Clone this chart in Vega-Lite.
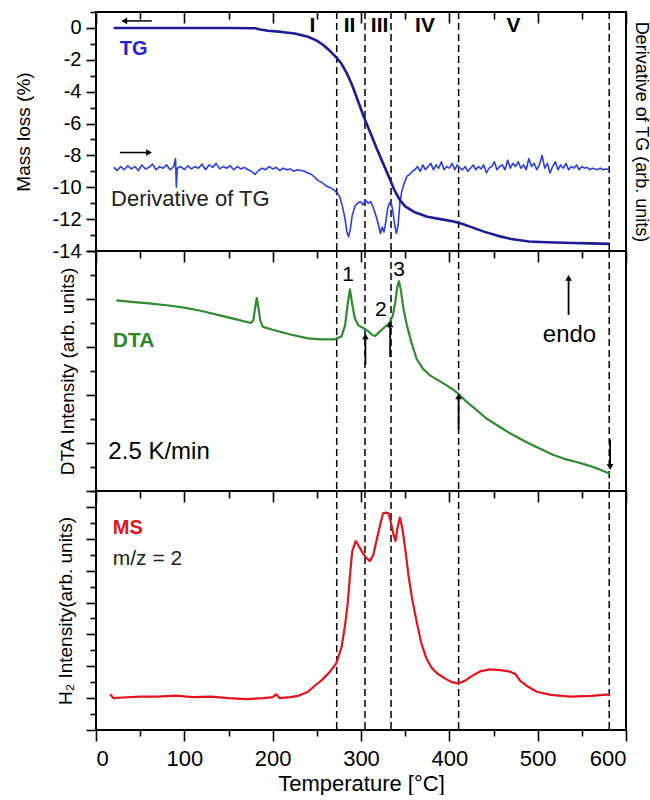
{
  "$schema": "https://vega.github.io/schema/vega-lite/v6.json",
  "padding": {"left": 13, "top": 10, "right": 0, "bottom": 0},
  "spacing": 0,
  "bounds": "flush",
  "config": {
    "font": "Liberation Sans",
    "view": {"stroke": "black", "strokeWidth": 2},
    "axis": {"domain": false, "grid": false, "labelFont": "Liberation Sans", "labelFontSize": 20, "labelColor": "black", "tickColor": "black", "tickWidth": 1.6, "titleFont": "Liberation Sans", "titleFontWeight": "normal", "titleFontSize": 19, "titleColor": "black"},
    "line": {"strokeJoin": "round"}
  },
  "datasets": {
    "vlines": [{"T": 272.5}, {"T": 304.5}, {"T": 334}, {"T": 410.5}, {"T": 581}],
    "tg": [
      {"T": 20, "v": 0}, {"T": 50, "v": 0}, {"T": 100, "v": 0}, {"T": 150, "v": 0}, {"T": 180, "v": -0.02},
      {"T": 186, "v": -0.1}, {"T": 195, "v": -0.18}, {"T": 210, "v": -0.25}, {"T": 225, "v": -0.35}, {"T": 240, "v": -0.55},
      {"T": 250, "v": -0.8}, {"T": 258, "v": -1.1}, {"T": 265, "v": -1.45}, {"T": 272, "v": -1.85}, {"T": 278, "v": -2.25},
      {"T": 284, "v": -2.85}, {"T": 290, "v": -3.6}, {"T": 297, "v": -4.65}, {"T": 304, "v": -5.7}, {"T": 310, "v": -6.5},
      {"T": 318, "v": -7.6}, {"T": 325, "v": -8.5}, {"T": 332, "v": -9.4}, {"T": 338, "v": -10.2}, {"T": 344, "v": -10.8},
      {"T": 350, "v": -11.2}, {"T": 360, "v": -11.55}, {"T": 375, "v": -11.85}, {"T": 390, "v": -12.0}, {"T": 405, "v": -12.15},
      {"T": 415, "v": -12.3}, {"T": 425, "v": -12.5}, {"T": 440, "v": -12.8}, {"T": 455, "v": -13.05}, {"T": 470, "v": -13.25},
      {"T": 490, "v": -13.4}, {"T": 510, "v": -13.45}, {"T": 540, "v": -13.5}, {"T": 560, "v": -13.52}, {"T": 582, "v": -13.55}
    ],
    "dtg": [
      {"T": 20, "v": -8.75}, {"T": 24, "v": -8.95}, {"T": 28, "v": -8.7}, {"T": 32, "v": -8.9}, {"T": 36, "v": -8.65},
      {"T": 40, "v": -8.85}, {"T": 44, "v": -8.7}, {"T": 48, "v": -8.95}, {"T": 52, "v": -8.6}, {"T": 56, "v": -8.85},
      {"T": 60, "v": -8.75}, {"T": 64, "v": -8.55}, {"T": 68, "v": -8.9}, {"T": 72, "v": -8.7}, {"T": 76, "v": -8.8},
      {"T": 80, "v": -8.6}, {"T": 84, "v": -8.9}, {"T": 88, "v": -8.7}, {"T": 90, "v": -8.2}, {"T": 91, "v": -10.0},
      {"T": 92, "v": -8.8}, {"T": 96, "v": -8.7}, {"T": 100, "v": -8.9}, {"T": 104, "v": -8.65}, {"T": 108, "v": -8.85},
      {"T": 112, "v": -8.7}, {"T": 116, "v": -8.8}, {"T": 120, "v": -8.55}, {"T": 124, "v": -8.9}, {"T": 128, "v": -8.6},
      {"T": 132, "v": -8.75}, {"T": 136, "v": -8.5}, {"T": 140, "v": -8.85}, {"T": 144, "v": -8.7}, {"T": 148, "v": -8.8},
      {"T": 152, "v": -8.65}, {"T": 156, "v": -8.9}, {"T": 160, "v": -8.7}, {"T": 164, "v": -8.85}, {"T": 168, "v": -8.75},
      {"T": 172, "v": -8.9}, {"T": 176, "v": -9.0}, {"T": 180, "v": -9.2}, {"T": 184, "v": -8.95}, {"T": 188, "v": -8.8},
      {"T": 192, "v": -8.9}, {"T": 196, "v": -8.7}, {"T": 200, "v": -8.85}, {"T": 204, "v": -8.75}, {"T": 208, "v": -8.95},
      {"T": 212, "v": -8.8}, {"T": 216, "v": -8.9}, {"T": 220, "v": -8.85}, {"T": 224, "v": -9.0}, {"T": 228, "v": -8.9},
      {"T": 232, "v": -8.95}, {"T": 236, "v": -9.0}, {"T": 240, "v": -9.1}, {"T": 244, "v": -9.2}, {"T": 248, "v": -9.4},
      {"T": 252, "v": -9.6}, {"T": 256, "v": -9.7}, {"T": 260, "v": -9.9}, {"T": 264, "v": -10.0}, {"T": 268, "v": -10.1},
      {"T": 272, "v": -10.3}, {"T": 276, "v": -10.6}, {"T": 279, "v": -11.2}, {"T": 282, "v": -12.0}, {"T": 284, "v": -12.8},
      {"T": 286, "v": -13.1}, {"T": 288, "v": -12.6}, {"T": 290, "v": -11.8}, {"T": 293, "v": -11.2}, {"T": 296, "v": -11.0},
      {"T": 299, "v": -10.9}, {"T": 302, "v": -11.1}, {"T": 305, "v": -10.8}, {"T": 308, "v": -11.0}, {"T": 311, "v": -10.9},
      {"T": 314, "v": -11.3}, {"T": 317, "v": -11.8}, {"T": 320, "v": -12.4}, {"T": 322, "v": -12.9}, {"T": 324, "v": -12.5},
      {"T": 326, "v": -12.8}, {"T": 328, "v": -12.2}, {"T": 330, "v": -11.4}, {"T": 332, "v": -11.0}, {"T": 334, "v": -10.9},
      {"T": 336, "v": -11.5}, {"T": 338, "v": -12.3}, {"T": 340, "v": -12.9}, {"T": 342, "v": -12.4}, {"T": 344, "v": -11.0},
      {"T": 346, "v": -10.3}, {"T": 348, "v": -9.9}, {"T": 350, "v": -9.6}, {"T": 352, "v": -9.3}, {"T": 355, "v": -9.2},
      {"T": 358, "v": -9.0}, {"T": 361, "v": -8.9}, {"T": 364, "v": -8.7}, {"T": 367, "v": -9.0}, {"T": 370, "v": -8.6},
      {"T": 373, "v": -8.9}, {"T": 376, "v": -8.7}, {"T": 379, "v": -8.5}, {"T": 382, "v": -8.9}, {"T": 385, "v": -8.6},
      {"T": 388, "v": -8.8}, {"T": 391, "v": -8.4}, {"T": 394, "v": -8.9}, {"T": 397, "v": -8.7}, {"T": 400, "v": -8.8},
      {"T": 403, "v": -8.5}, {"T": 406, "v": -8.9}, {"T": 409, "v": -8.6}, {"T": 412, "v": -8.8}, {"T": 415, "v": -8.9},
      {"T": 418, "v": -8.7}, {"T": 421, "v": -9.0}, {"T": 424, "v": -8.8}, {"T": 427, "v": -8.6}, {"T": 430, "v": -8.9},
      {"T": 433, "v": -8.7}, {"T": 436, "v": -8.85}, {"T": 439, "v": -8.6}, {"T": 442, "v": -9.1}, {"T": 445, "v": -8.8},
      {"T": 448, "v": -8.7}, {"T": 451, "v": -8.4}, {"T": 454, "v": -8.9}, {"T": 457, "v": -8.7}, {"T": 460, "v": -8.6},
      {"T": 463, "v": -8.9}, {"T": 466, "v": -8.3}, {"T": 469, "v": -8.8}, {"T": 472, "v": -8.5}, {"T": 475, "v": -8.7},
      {"T": 478, "v": -8.4}, {"T": 481, "v": -8.8}, {"T": 484, "v": -8.6}, {"T": 487, "v": -8.9}, {"T": 490, "v": -8.2},
      {"T": 493, "v": -8.7}, {"T": 496, "v": -8.5}, {"T": 499, "v": -8.9}, {"T": 502, "v": -8.6}, {"T": 505, "v": -8.0},
      {"T": 508, "v": -8.8}, {"T": 511, "v": -8.5}, {"T": 514, "v": -9.1}, {"T": 517, "v": -8.7}, {"T": 520, "v": -8.4},
      {"T": 523, "v": -8.9}, {"T": 526, "v": -8.6}, {"T": 529, "v": -8.8}, {"T": 532, "v": -8.5}, {"T": 535, "v": -8.9},
      {"T": 538, "v": -8.7}, {"T": 541, "v": -8.8}, {"T": 544, "v": -8.6}, {"T": 547, "v": -8.9}, {"T": 550, "v": -8.7},
      {"T": 553, "v": -8.8}, {"T": 556, "v": -8.75}, {"T": 559, "v": -8.9}, {"T": 562, "v": -8.8}, {"T": 565, "v": -8.85},
      {"T": 568, "v": -8.9}, {"T": 571, "v": -8.8}, {"T": 574, "v": -8.9}, {"T": 577, "v": -8.85}, {"T": 581, "v": -8.9}
    ],
    "dta": [
      {"T": 23, "v": 3.97}, {"T": 40, "v": 3.94}, {"T": 60, "v": 3.91}, {"T": 80, "v": 3.87}, {"T": 100, "v": 3.82},
      {"T": 120, "v": 3.75}, {"T": 140, "v": 3.66}, {"T": 160, "v": 3.57}, {"T": 175, "v": 3.5}, {"T": 178, "v": 3.55},
      {"T": 180, "v": 3.8}, {"T": 182, "v": 4.02}, {"T": 184, "v": 3.8}, {"T": 186, "v": 3.55}, {"T": 189, "v": 3.42},
      {"T": 200, "v": 3.36}, {"T": 220, "v": 3.26}, {"T": 240, "v": 3.18}, {"T": 255, "v": 3.16}, {"T": 270, "v": 3.16},
      {"T": 278, "v": 3.22}, {"T": 282, "v": 3.45}, {"T": 285, "v": 3.9}, {"T": 287.5, "v": 4.2}, {"T": 290, "v": 3.9},
      {"T": 293, "v": 3.6}, {"T": 297, "v": 3.45}, {"T": 302, "v": 3.4}, {"T": 308, "v": 3.33}, {"T": 313, "v": 3.25},
      {"T": 316, "v": 3.23}, {"T": 320, "v": 3.3}, {"T": 326, "v": 3.4}, {"T": 332, "v": 3.5}, {"T": 336, "v": 3.65},
      {"T": 339, "v": 3.95}, {"T": 341, "v": 4.25}, {"T": 343, "v": 4.37}, {"T": 345, "v": 4.2}, {"T": 348, "v": 3.8},
      {"T": 352, "v": 3.45}, {"T": 357, "v": 3.1}, {"T": 363, "v": 2.75}, {"T": 370, "v": 2.55}, {"T": 378, "v": 2.41},
      {"T": 388, "v": 2.3}, {"T": 397, "v": 2.2}, {"T": 405, "v": 2.1}, {"T": 410, "v": 2.03}, {"T": 420, "v": 1.85},
      {"T": 430, "v": 1.7}, {"T": 442, "v": 1.51}, {"T": 455, "v": 1.36}, {"T": 467, "v": 1.22}, {"T": 480, "v": 1.09},
      {"T": 495, "v": 0.95}, {"T": 510, "v": 0.82}, {"T": 518, "v": 0.75}, {"T": 530, "v": 0.67}, {"T": 545, "v": 0.6},
      {"T": 556, "v": 0.54}, {"T": 570, "v": 0.45}, {"T": 582, "v": 0.36}
    ],
    "ms": [
      {"T": 16, "v": 0.12}, {"T": 20, "v": 0.0}, {"T": 30, "v": 0.02}, {"T": 50, "v": 0.05}, {"T": 70, "v": 0.05},
      {"T": 90, "v": 0.08}, {"T": 110, "v": 0.03}, {"T": 130, "v": 0.05}, {"T": 150, "v": 0.0}, {"T": 170, "v": -0.03},
      {"T": 190, "v": 0.0}, {"T": 200, "v": 0.03}, {"T": 204, "v": 0.12}, {"T": 208, "v": 0.0}, {"T": 220, "v": 0.03},
      {"T": 230, "v": 0.08}, {"T": 240, "v": 0.2}, {"T": 249, "v": 0.42}, {"T": 255, "v": 0.55}, {"T": 264, "v": 0.8},
      {"T": 272, "v": 1.09}, {"T": 278, "v": 1.6}, {"T": 282, "v": 2.3}, {"T": 285, "v": 3.0}, {"T": 288, "v": 4.0},
      {"T": 290, "v": 4.6}, {"T": 294, "v": 4.93}, {"T": 298, "v": 4.75}, {"T": 302, "v": 4.55}, {"T": 306, "v": 4.4},
      {"T": 310, "v": 4.3}, {"T": 314, "v": 4.5}, {"T": 318, "v": 5.0}, {"T": 322, "v": 5.47}, {"T": 325, "v": 5.8},
      {"T": 328, "v": 5.82}, {"T": 331, "v": 5.8}, {"T": 334, "v": 5.5}, {"T": 337, "v": 5.1}, {"T": 339, "v": 4.93},
      {"T": 341, "v": 5.3}, {"T": 344, "v": 5.67}, {"T": 347, "v": 5.3}, {"T": 350, "v": 4.7}, {"T": 354, "v": 3.8},
      {"T": 358, "v": 3.1}, {"T": 363, "v": 2.4}, {"T": 368, "v": 1.75}, {"T": 374, "v": 1.25}, {"T": 380, "v": 0.95},
      {"T": 386, "v": 0.78}, {"T": 395, "v": 0.62}, {"T": 403, "v": 0.5}, {"T": 410, "v": 0.46}, {"T": 418, "v": 0.55},
      {"T": 427, "v": 0.72}, {"T": 436, "v": 0.85}, {"T": 446, "v": 0.9}, {"T": 458, "v": 0.88}, {"T": 469, "v": 0.83},
      {"T": 475, "v": 0.75}, {"T": 480, "v": 0.55}, {"T": 488, "v": 0.38}, {"T": 499, "v": 0.2}, {"T": 515, "v": 0.1},
      {"T": 537, "v": 0.05}, {"T": 560, "v": 0.07}, {"T": 582, "v": 0.12}
    ]
  },
  "vconcat": [
    {
      "width": 530,
      "height": 239,
      "resolve": {"axis": {"x": "independent", "y": "independent"}},
      "layer": [
        {
          "data": {"name": "vlines"},
          "mark": {"type": "rule", "color": "black", "strokeDash": [7, 4], "strokeWidth": 1.5},
          "encoding": {
            "x": {"field": "T", "type": "quantitative", "scale": {"domain": [0, 600], "nice": false},
              "axis": {"orient": "top", "values": [0, 100, 200, 300, 400, 500, 600], "labels": false, "title": null, "tickSize": 11, "offset": -11}}
          }
        },
        {
          "data": {"name": "dtg"},
          "mark": {"type": "line", "color": "#2b3fe6", "strokeWidth": 1.6},
          "encoding": {
            "x": {"field": "T", "type": "quantitative", "scale": {"domain": [0, 600], "nice": false},
              "axis": {"orient": "top", "values": [50, 150, 250, 350, 450, 550], "labels": false, "title": null, "tickSize": 7, "offset": -7}},
            "y": {"field": "v", "type": "quantitative", "scale": {"domain": [-14, 1], "nice": false, "zero": false},
              "axis": {"orient": "right", "labels": false, "ticks": false, "title": "Derivative of TG (arb. units)", "titleFontSize": 18, "titlePadding": 5}}
          }
        },
        {
          "data": {"name": "tg"},
          "mark": {"type": "line", "color": "#1c1c94", "strokeWidth": 2.6},
          "encoding": {
            "x": {"field": "T", "type": "quantitative", "scale": {"domain": [0, 600], "nice": false}, "axis": null},
            "y": {"field": "v", "type": "quantitative", "scale": {"domain": [-14, 1], "nice": false, "zero": false},
              "axis": {"orient": "left", "values": [-14, -12, -10, -8, -6, -4, -2, 0],
                "labelExpr": "toString(datum.value)", "tickSize": 10,
                "labelPadding": 5, "title": "Mass loss (%)", "titlePadding": 19}}
          }
        },
        {
          "data": {"values": [{"T": 245, "v": 0.15, "t": "I"}, {"T": 287, "v": 0.15, "t": "II"}, {"T": 321, "v": 0.15, "t": "III"}, {"T": 372.5, "v": 0.15, "t": "IV"}, {"T": 472.5, "v": 0.15, "t": "V"}]},
          "mark": {"type": "text", "fontSize": 21, "fontWeight": "bold", "color": "black", "baseline": "middle"},
          "encoding": {
            "x": {"field": "T", "type": "quantitative", "scale": {"domain": [0, 600], "nice": false}, "axis": null},
            "y": {"field": "v", "type": "quantitative", "scale": {"domain": [-14, 1], "nice": false, "zero": false},
              "axis": {"orient": "left", "values": [-13, -11, -9, -7, -5, -3, -1, 1], "labels": false, "title": null, "tickSize": 6}},
            "text": {"field": "t"}
          }
        },
        {
          "data": {"values": [{"T": 27, "v": -1.3, "t": "TG"}]},
          "mark": {"type": "text", "fontSize": 20, "fontWeight": "bold", "color": "#2323cc", "align": "left", "baseline": "middle"},
          "encoding": {
            "x": {"field": "T", "type": "quantitative", "scale": {"domain": [0, 600], "nice": false}, "axis": null},
            "y": {"field": "v", "type": "quantitative", "scale": {"domain": [-14, 1], "nice": false, "zero": false}, "axis": null},
            "text": {"field": "t"}
          }
        },
        {
          "data": {"values": [{"T": 17, "v": -10.72, "t": "Derivative of TG"}]},
          "mark": {"type": "text", "fontSize": 22, "color": "#222222", "align": "left", "baseline": "middle"},
          "encoding": {
            "x": {"field": "T", "type": "quantitative", "scale": {"domain": [0, 600], "nice": false}, "axis": null},
            "y": {"field": "v", "type": "quantitative", "scale": {"domain": [-14, 1], "nice": false, "zero": false}, "axis": null},
            "text": {"field": "t"}
          }
        },
        {
          "data": {"values": [{"T": 31, "T2": 63, "v": 0.44}, {"T": 27, "T2": 60, "v": -7.82}]},
          "mark": {"type": "rule", "color": "black", "strokeWidth": 1.5},
          "encoding": {
            "x": {"field": "T", "type": "quantitative", "scale": {"domain": [0, 600], "nice": false}, "axis": null},
            "x2": {"field": "T2"},
            "y": {"field": "v", "type": "quantitative", "scale": {"domain": [-14, 1], "nice": false, "zero": false}, "axis": null}
          }
        },
        {
          "data": {"values": [{"T": 32, "v": 0.44}]},
          "mark": {"type": "point", "shape": "triangle-left", "filled": true, "color": "black", "size": 45, "opacity": 1},
          "encoding": {
            "x": {"field": "T", "type": "quantitative", "scale": {"domain": [0, 600], "nice": false}, "axis": null},
            "y": {"field": "v", "type": "quantitative", "scale": {"domain": [-14, 1], "nice": false, "zero": false}, "axis": null}
          }
        },
        {
          "data": {"values": [{"T": 60, "v": -7.82}]},
          "mark": {"type": "point", "shape": "triangle-right", "filled": true, "color": "black", "size": 45, "opacity": 1},
          "encoding": {
            "x": {"field": "T", "type": "quantitative", "scale": {"domain": [0, 600], "nice": false}, "axis": null},
            "y": {"field": "v", "type": "quantitative", "scale": {"domain": [-14, 1], "nice": false, "zero": false}, "axis": null}
          }
        }
      ]
    },
    {
      "width": 530,
      "height": 240,
      "resolve": {"axis": {"x": "independent", "y": "independent"}},
      "layer": [
        {
          "data": {"name": "vlines"},
          "mark": {"type": "rule", "color": "black", "strokeDash": [7, 4], "strokeWidth": 1.5},
          "encoding": {
            "x": {"field": "T", "type": "quantitative", "scale": {"domain": [0, 600], "nice": false},
              "axis": {"orient": "top", "values": [0, 100, 200, 300, 400, 500, 600], "labels": false, "title": null, "tickSize": 11, "offset": -11}}
          }
        },
        {
          "data": {"name": "dta"},
          "mark": {"type": "line", "color": "#2e8b2e", "strokeWidth": 2.2},
          "encoding": {
            "x": {"field": "T", "type": "quantitative", "scale": {"domain": [0, 600], "nice": false},
              "axis": {"orient": "top", "values": [50, 150, 250, 350, 450, 550], "labels": false, "title": null, "tickSize": 7, "offset": -7}},
            "y": {"field": "v", "type": "quantitative", "scale": {"domain": [0, 5], "nice": false},
              "axis": {"orient": "left", "values": [0, 1, 2, 3, 4, 5], "labels": false, "tickSize": 10,
                "title": "DTA Intensity (arb. units)", "titlePadding": 8}}
          }
        },
        {
          "data": {"values": [{"T": 305, "v": 2.63, "v2": 3.2}, {"T": 333, "v": 2.79, "v2": 3.45}, {"T": 410.5, "v": 1.29, "v2": 1.95}, {"T": 582, "v": 1.08, "v2": 0.5}, {"T": 535, "v": 3.67, "v2": 4.4}]},
          "mark": {"type": "rule", "color": "black", "strokeWidth": 1.8},
          "encoding": {
            "x": {"field": "T", "type": "quantitative", "scale": {"domain": [0, 600], "nice": false}, "axis": null},
            "y": {"field": "v", "type": "quantitative", "scale": {"domain": [0, 5], "nice": false},
              "axis": {"orient": "left", "values": [0.5, 1.5, 2.5, 3.5, 4.5], "labels": false, "title": null, "tickSize": 6}},
            "y2": {"field": "v2"}
          }
        },
        {
          "data": {"values": [{"T": 305, "v": 3.22}, {"T": 333, "v": 3.47}, {"T": 410.5, "v": 1.97}, {"T": 535, "v": 4.44}]},
          "mark": {"type": "point", "shape": "triangle-up", "filled": true, "color": "black", "size": 45, "opacity": 1},
          "encoding": {
            "x": {"field": "T", "type": "quantitative", "scale": {"domain": [0, 600], "nice": false}, "axis": null},
            "y": {"field": "v", "type": "quantitative", "scale": {"domain": [0, 5], "nice": false}, "axis": null}
          }
        },
        {
          "data": {"values": [{"T": 582, "v": 0.5}]},
          "mark": {"type": "point", "shape": "triangle-down", "filled": true, "color": "black", "size": 45, "opacity": 1},
          "encoding": {
            "x": {"field": "T", "type": "quantitative", "scale": {"domain": [0, 600], "nice": false}, "axis": null},
            "y": {"field": "v", "type": "quantitative", "scale": {"domain": [0, 5], "nice": false}, "axis": null}
          }
        },
        {
          "data": {"values": [{"T": 19, "v": 3.12, "t": "DTA"}]},
          "mark": {"type": "text", "fontSize": 21, "fontWeight": "bold", "color": "#2a8a2a", "align": "left", "baseline": "middle"},
          "encoding": {
            "x": {"field": "T", "type": "quantitative", "scale": {"domain": [0, 600], "nice": false}, "axis": null},
            "y": {"field": "v", "type": "quantitative", "scale": {"domain": [0, 5], "nice": false}, "axis": null},
            "text": {"field": "t"}
          }
        },
        {
          "data": {"values": [{"T": 14, "v": 0.81, "t": "2.5 K/min"}]},
          "mark": {"type": "text", "fontSize": 24, "color": "black", "align": "left", "baseline": "middle"},
          "encoding": {
            "x": {"field": "T", "type": "quantitative", "scale": {"domain": [0, 600], "nice": false}, "axis": null},
            "y": {"field": "v", "type": "quantitative", "scale": {"domain": [0, 5], "nice": false}, "axis": null},
            "text": {"field": "t"}
          }
        },
        {
          "data": {"values": [{"T": 536, "v": 3.25, "t": "endo"}]},
          "mark": {"type": "text", "fontSize": 24, "color": "black", "align": "center", "baseline": "middle"},
          "encoding": {
            "x": {"field": "T", "type": "quantitative", "scale": {"domain": [0, 600], "nice": false}, "axis": null},
            "y": {"field": "v", "type": "quantitative", "scale": {"domain": [0, 5], "nice": false}, "axis": null},
            "text": {"field": "t"}
          }
        },
        {
          "data": {"values": [{"T": 285.3, "v": 4.5, "t": "1"}, {"T": 322.6, "v": 3.77, "t": "2"}, {"T": 343, "v": 4.6, "t": "3"}]},
          "mark": {"type": "text", "fontSize": 21, "color": "black", "align": "center", "baseline": "middle"},
          "encoding": {
            "x": {"field": "T", "type": "quantitative", "scale": {"domain": [0, 600], "nice": false}, "axis": null},
            "y": {"field": "v", "type": "quantitative", "scale": {"domain": [0, 5], "nice": false}, "axis": null},
            "text": {"field": "t"}
          }
        }
      ]
    },
    {
      "width": 530,
      "height": 239,
      "resolve": {"axis": {"x": "independent", "y": "independent"}},
      "layer": [
        {
          "data": {"name": "vlines"},
          "mark": {"type": "rule", "color": "black", "strokeDash": [7, 4], "strokeWidth": 1.5},
          "encoding": {
            "x": {"field": "T", "type": "quantitative", "scale": {"domain": [0, 600], "nice": false},
              "axis": {"orient": "top", "values": [0, 100, 200, 300, 400, 500, 600], "labels": false, "title": null, "tickSize": 11, "offset": -11}}
          }
        },
        {
          "data": {"name": "ms"},
          "mark": {"type": "line", "color": "#e3141c", "strokeWidth": 2.2},
          "encoding": {
            "x": {"field": "T", "type": "quantitative", "scale": {"domain": [0, 600], "nice": false},
              "axis": {"orient": "bottom", "values": [0, 100, 200, 300, 400, 500, 600],
                "labelExpr": "toString(datum.value)", "tickSize": 11,
                "labelFontSize": 22, "labelPadding": 7, "title": "Temperature [°C]", "titleFontSize": 22, "titlePadding": 4}},
            "y": {"field": "v", "type": "quantitative", "scale": {"domain": [-1, 6.5], "nice": false, "zero": false},
              "axis": {"orient": "left", "values": [-1, 0, 1, 2, 3, 4, 5, 6], "labels": false, "tickSize": 10,
                "title": "H₂ Intensity(arb. units)", "titlePadding": 10}}
          }
        },
        {
          "data": {"values": [{"T": 19, "v": 5.34, "t": "MS"}]},
          "mark": {"type": "text", "fontSize": 20, "fontWeight": "bold", "color": "#e3141c", "align": "left", "baseline": "middle"},
          "encoding": {
            "x": {"field": "T", "type": "quantitative", "scale": {"domain": [0, 600], "nice": false},
              "axis": {"orient": "top", "values": [50, 150, 250, 350, 450, 550], "labels": false, "title": null, "tickSize": 7, "offset": -7}},
            "y": {"field": "v", "type": "quantitative", "scale": {"domain": [-1, 6.5], "nice": false, "zero": false},
              "axis": {"orient": "left", "values": [-0.5, 0.5, 1.5, 2.5, 3.5, 4.5, 5.5, 6.5], "labels": false, "title": null, "tickSize": 6}},
            "text": {"field": "t"}
          }
        },
        {
          "data": {"values": [{"T": 19, "v": 4.36, "t": "m/z = 2"}]},
          "mark": {"type": "text", "fontSize": 21, "color": "#222222", "align": "left", "baseline": "middle"},
          "encoding": {
            "x": {"field": "T", "type": "quantitative", "scale": {"domain": [0, 600], "nice": false},
              "axis": {"orient": "bottom", "values": [50, 150, 250, 350, 450, 550], "labels": false, "title": null, "tickSize": 6}},
            "y": {"field": "v", "type": "quantitative", "scale": {"domain": [-1, 6.5], "nice": false, "zero": false}, "axis": null},
            "text": {"field": "t"}
          }
        }
      ]
    }
  ]
}
